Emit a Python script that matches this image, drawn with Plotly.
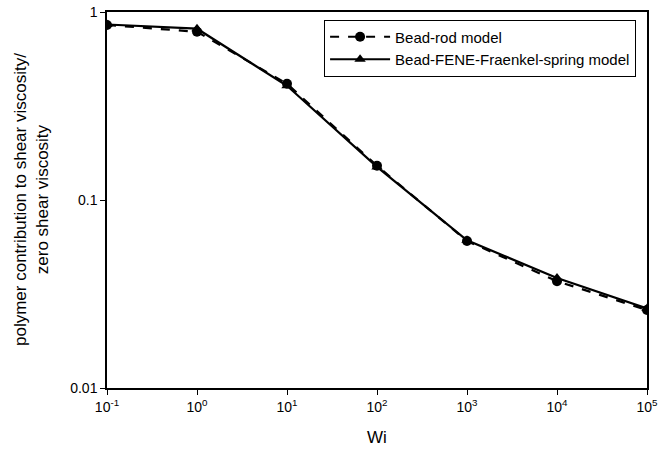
import plotly.graph_objects as go

wi = [0.1, 1, 10, 100, 1000, 10000, 100000]
bead_rod = [0.853, 0.785, 0.415, 0.152, 0.0605, 0.037, 0.026]
bead_fene = [0.858, 0.815, 0.405, 0.150, 0.061, 0.0385, 0.0265]
x_tickvals = [0.1, 1, 10, 100, 1000, 10000, 100000]
x_ticktext = ["10<sup>-1</sup>", "10<sup>0</sup>", "10<sup>1</sup>", "10<sup>2</sup>",
              "10<sup>3</sup>", "10<sup>4</sup>", "10<sup>5</sup>"]
y_tickvals = [0.01, 0.1, 1]
y_ticktext = ["0.01", "0.1", "1"]

fig = go.Figure()
fig.add_trace(go.Scatter(x=wi, y=bead_rod, name="Bead-rod model", mode="lines+markers",
                         line=dict(color="black", width=2.2, dash="dash"),
                         marker=dict(symbol="circle", size=10, color="black")))
fig.add_trace(go.Scatter(x=wi, y=bead_fene, name="Bead-FENE-Fraenkel-spring model",
                         mode="lines+markers",
                         line=dict(color="black", width=2.2),
                         marker=dict(symbol="triangle-up", size=10, color="black")))

font = "Liberation Sans, Arial, sans-serif"
# plot area: 540 x 376 px
fig.update_layout(
    width=667, height=453,
    margin=dict(l=107, r=20, t=12, b=65),
    paper_bgcolor="white", plot_bgcolor="white",
    font=dict(family=font, color="black", size=14),
    showlegend=True,
    legend=dict(x=0.402, y=0.98, xanchor="left", yanchor="top",
                bordercolor="black", borderwidth=1, bgcolor="white",
                font=dict(size=15, family=font), itemwidth=60,
                tracegroupgap=0),
    xaxis=dict(type="log", range=[-1, 5], tickvals=x_tickvals, ticktext=x_ticktext,
               ticks="outside", ticklen=5, tickcolor="black", showgrid=False,
               showline=True, linecolor="black", linewidth=1.5, mirror=True,
               zeroline=False, automargin=False),
    yaxis=dict(type="log", range=[-2, 0], tickvals=y_tickvals, ticktext=y_ticktext,
               ticks="outside", ticklen=5, tickcolor="black", showgrid=False,
               showline=True, linecolor="black", linewidth=1.5, mirror=True,
               zeroline=False, automargin=False),
    annotations=[
        dict(text="polymer contribution to shear viscosity/<br>zero shear viscosity",
             xref="paper", yref="paper", x=-76 / 540, y=0.5, xanchor="center",
             yanchor="middle", textangle=-90, showarrow=False,
             font=dict(size=17, family=font)),
        dict(text="Wi", xref="paper", yref="paper", x=0.5, y=-49 / 376,
             xanchor="center", yanchor="middle", showarrow=False,
             font=dict(size=17, family=font)),
    ],
)
fig.write_html("out.html", config={"displayModeBar": False},
               post_script="document.body.style.margin='0';")
